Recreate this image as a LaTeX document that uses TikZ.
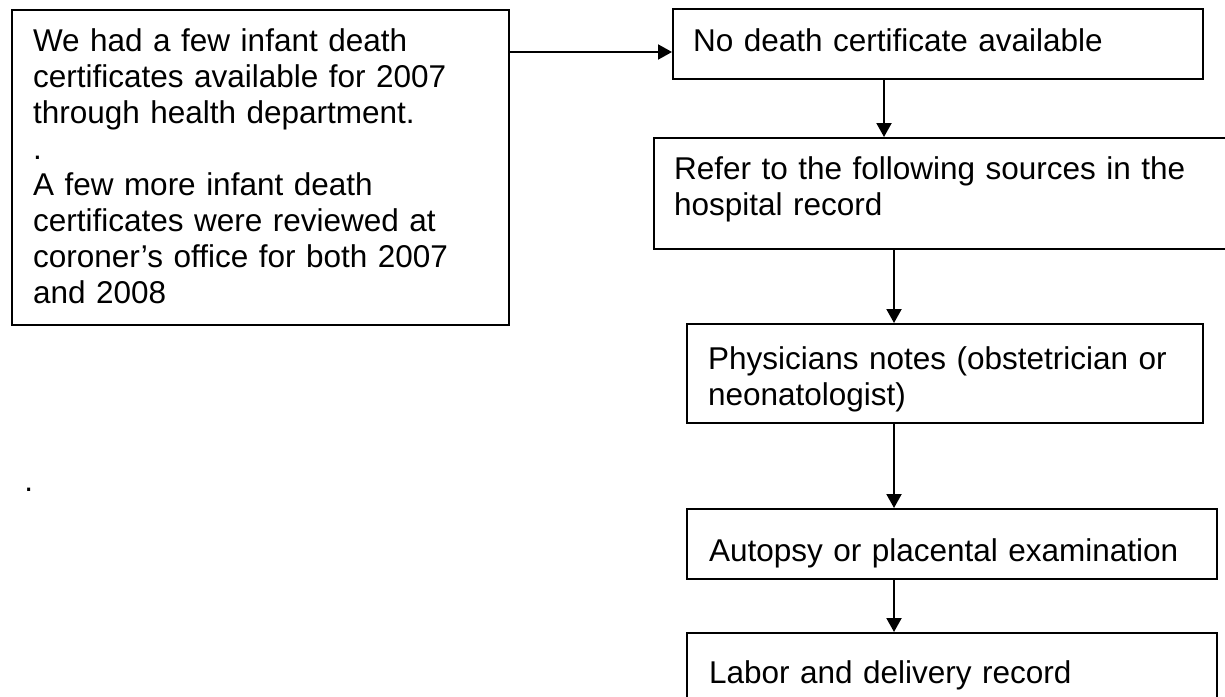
\documentclass[tikz,border=0pt]{standalone}
\usepackage{fontspec}
\setmainfont{Liberation Sans}
\usetikzlibrary{arrows.meta}

\begin{document}
\begin{tikzpicture}[x=0.5pt, y=-0.5pt,
    card/.style={draw, line width=1pt, anchor=north west, align=left, inner ysep=0pt,
      font=\fontsize{15.75}{18}\selectfont},
    flow/.style={line width=1pt, -{Triangle[length=7pt, width=7.5pt]}}]
  \useasboundingbox (0,0) rectangle (1225,696);
  \clip (0,0) rectangle (1225,696);
  \node[card, inner xsep=10.5pt, text width=227.5pt, text height=20.5pt, text depth=137pt] (note) at (11,9)
    {We had a few infant death\\ certificates available for 2007\\ through health department.\\ .\\ A few more infant death\\ certificates were reviewed at\\ coroner’s office for both 2007\\ and 2008};
  \node[card, inner xsep=10pt, text width=245pt, text height=21pt, text depth=14pt] (nocert) at (672,8)
    {No death certificate available};
  \node[card, inner xsep=10pt, text width=268.5pt, text height=20.5pt, text depth=35pt] (refer) at (653,137)
    {Refer to the following sources in the\\ hospital record};
  \node[card, inner xsep=10.5pt, text width=237pt, text height=22.5pt, text depth=27pt] (phys) at (686,323)
    {Physicians notes (obstetrician or\\ neonatologist)};
  \node[card, inner xsep=11pt, text width=243pt, text height=26pt, text depth=9pt] (autopsy) at (686,508)
    {Autopsy or placental examination};
  \node[card, inner xsep=11pt, text width=243pt, text height=25pt, text depth=29pt] (labor) at (686,632)
    {Labor and delivery record};
  \node[anchor=base west, inner sep=0pt, font=\fontsize{15.75}{18}\selectfont] (dot) at (24,491) {.};
  \coordinate (hline) at (0,52);
  \coordinate (spinetop) at (884,0);
  \coordinate (spine) at (894,0);
  \draw[flow] (note.east |- hline) -- (nocert.west |- hline);
  \draw[flow] (nocert.south -| spinetop) -- (refer.north -| spinetop);
  \foreach \from/\to in {refer/phys, phys/autopsy, autopsy/labor}
    \draw[flow] (\from.south -| spine) -- (\to.north -| spine);
\end{tikzpicture}
\end{document}
